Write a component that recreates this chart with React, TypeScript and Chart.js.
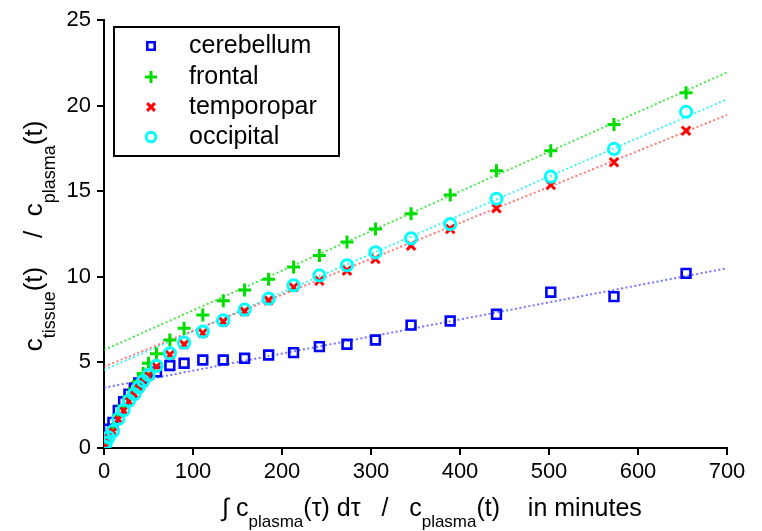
import React, { useEffect, useRef } from 'react';
import { Chart, registerables } from 'chart.js';
import { drawPoint } from 'chart.js/helpers';

Chart.register(...registerables);

// ---- data ----
const xValues = [0.5, 2, 5, 10, 16, 22, 28, 34, 39, 44, 50, 59, 74, 90, 111, 134, 158, 185, 213, 242, 273, 305, 345, 389, 441, 502, 573, 654];

const cerebellum = [0.2, 0.65, 1.1, 1.5, 2.2, 2.7, 3.15, 3.5, 3.8, 4.05, 4.3, 4.45, 4.82, 4.95, 5.14, 5.14, 5.24, 5.43, 5.57, 5.92, 6.06, 6.31, 7.18, 7.42, 7.81, 9.1, 8.84, 10.2];
const frontal = [0.1, 0.35, 0.75, 1.1, 1.9, 2.45, 3.0, 3.45, 3.9, 4.35, 4.95, 5.5, 6.31, 6.99, 7.77, 8.6, 9.23, 9.85, 10.57, 11.25, 12.03, 12.79, 13.69, 14.78, 16.2, 17.37, 18.9, 20.75];
const temporopar = [0.05, 0.25, 0.58, 0.95, 1.68, 2.18, 2.73, 3.12, 3.5, 3.83, 4.2, 4.75, 5.45, 6.05, 6.72, 7.38, 7.98, 8.62, 9.39, 9.77, 10.36, 11.04, 11.82, 12.79, 14.0, 15.36, 16.69, 18.53];
const occipital = [0.1, 0.3, 0.62, 0.98, 1.7, 2.2, 2.76, 3.14, 3.55, 3.91, 4.26, 4.8, 5.53, 6.15, 6.8, 7.45, 8.08, 8.72, 9.5, 10.08, 10.67, 11.43, 12.25, 13.08, 14.56, 15.85, 17.47, 19.64];

// fitted lines: values at fitX
const fitX = [0, 700];
const cerebellumFit = [3.52, 10.5];
const frontalFit = [5.72, 21.94];
const temporoparFit = [4.75, 19.45];
const occipitalFit = [4.56, 20.37];

const seriesNames = ['cerebellum', 'frontal', 'temporopar', 'occipital'];
const xTickMin = 0, xTickMax = 700, xTickStep = 100;
const yTickMin = 0, yTickMax = 25, yTickStep = 5;

const FONT = '"Liberation Sans", Arial, Helvetica, sans-serif';
const BLUE = '#0000ff';
const GREEN = '#00dd00';
const RED = '#ff0000';
const CYAN = '#00ffff';

const toPts = (ys: number[]) => ys.map((y, i) => ({ x: xValues[i], y }));
const toFit = (ys: number[]) => ys.map((y, i) => ({ x: fitX[i], y }));

type Seg = { t: string; sub?: boolean };

const xLabelSegs: Seg[] = [
  { t: '\u222B c' }, { t: 'plasma', sub: true }, { t: '(\u03C4) d\u03C4   /   c' }, { t: 'plasma', sub: true }, { t: '(t)    in minutes' },
];
const yLabelSegs: Seg[] = [
  { t: 'c' }, { t: 'tissue', sub: true }, { t: '(t)    /  c' }, { t: 'plasma', sub: true }, { t: '(t)' },
];

function drawRich(ctx: CanvasRenderingContext2D, segs: Seg[], cx: number, baseY: number, main: number, sub: number, shift: number) {
  let total = 0;
  const widths = segs.map((s) => {
    ctx.font = `${s.sub ? sub : main}px ${FONT}`;
    const w = ctx.measureText(s.t).width;
    total += w;
    return w;
  });
  let x = cx - total / 2;
  segs.forEach((s, i) => {
    ctx.font = `${s.sub ? sub : main}px ${FONT}`;
    ctx.fillText(s.t, x, baseY + (s.sub ? shift : 0));
    x += widths[i];
  });
}

const decorPlugin = {
  id: 'decor',
  afterDraw(chart: any) {
    const ctx: CanvasRenderingContext2D = chart.ctx;
    ctx.save();
    ctx.fillStyle = '#000';
    ctx.textAlign = 'left';
    ctx.textBaseline = 'alphabetic';
    // x axis title
    drawRich(ctx, xLabelSegs, 432, 516, 25, 17, 11);
    // y axis title
    ctx.save();
    ctx.translate(42, 236);
    ctx.rotate(-Math.PI / 2);
    drawRich(ctx, yLabelSegs, 0, 0, 26, 18, 13);
    ctx.restore();

    // legend box
    const bx = 114, by = 27, bw = 225, bh = 129;
    ctx.fillStyle = '#fff';
    ctx.fillRect(bx, by, bw, bh);
    ctx.strokeStyle = '#000';
    ctx.lineWidth = 2;
    ctx.strokeRect(bx, by, bw, bh);
    const rows = [46, 77, 107, 137];
    const scatterSets = chart.data.datasets.filter((d: any) => d.isSeries);
    scatterSets.forEach((d: any, i: number) => {
      ctx.save();
      ctx.strokeStyle = d.borderColor;
      ctx.fillStyle = 'rgba(0,0,0,0)';
      ctx.lineWidth = d.pointBorderWidth;
      drawPoint(ctx, { pointStyle: d.pointStyle, radius: d.legendRadius, borderWidth: d.pointBorderWidth, rotation: 0 } as any, 151, rows[i]);
      ctx.restore();
      ctx.fillStyle = '#000';
      ctx.font = `25px ${FONT}`;
      ctx.textBaseline = 'middle';
      ctx.fillText(d.label, 189, rows[i]);
    });
    ctx.restore();
  },
};

export default function App() {
  const ref = useRef<HTMLCanvasElement | null>(null);
  useEffect(() => {
    if (!ref.current) return;
    const series = [
      { label: seriesNames[0], data: toPts(cerebellum), color: BLUE, style: 'rect', r: 6.2, lr: 5.2, bw: 2.6, order: 4 },
      { label: seriesNames[1], data: toPts(frontal), color: GREEN, style: 'cross', r: 6.5, lr: 6, bw: 3, order: 3 },
      { label: seriesNames[2], data: toPts(temporopar), color: RED, style: 'crossRot', r: 6, lr: 5.5, bw: 3, order: 2 },
      { label: seriesNames[3], data: toPts(occipital), color: CYAN, style: 'circle', r: 5.6, lr: 4.8, bw: 3, order: 1 },
    ];
    const fits = [
      { data: toFit(cerebellumFit), color: 'rgba(60,60,255,0.7)' },
      { data: toFit(frontalFit), color: 'rgba(0,220,0,0.7)' },
      { data: toFit(temporoparFit), color: 'rgba(255,60,60,0.7)' },
      { data: toFit(occipitalFit), color: 'rgba(0,240,240,0.75)' },
    ];
    const datasets: any[] = [
      ...series.map((s) => ({
        label: s.label,
        isSeries: true,
        legendRadius: s.lr,
        data: s.data,
        showLine: false,
        borderColor: s.color,
        backgroundColor: 'rgba(0,0,0,0)',
        pointStyle: s.style,
        pointRadius: s.r,
        pointBorderWidth: s.bw,
        pointBorderColor: s.color,
        pointBackgroundColor: 'rgba(0,0,0,0)',
        order: s.order,
      })),
      ...fits.map((f) => ({
        label: 'fit',
        data: f.data,
        showLine: true,
        borderColor: f.color,
        borderWidth: 2,
        borderDash: [2, 2.5],
        pointRadius: 0,
        fill: false,
        order: 10,
      })),
    ];
    const tickFont = { size: 22, family: FONT };
    const chart = new Chart(ref.current, {
      type: 'scatter',
      data: { datasets },
      options: {
        animation: false,
        responsive: false,
        maintainAspectRatio: false,
        devicePixelRatio: 1,
        layout: { padding: { left: 0, right: 35, top: 20, bottom: 0 } },
        plugins: { legend: { display: false }, tooltip: { enabled: false } },
        scales: {
          x: {
            type: 'linear',
            min: xTickMin,
            max: xTickMax,
            ticks: { stepSize: xTickStep, color: '#000', font: tickFont, padding: 4, maxRotation: 0 },
            grid: { drawOnChartArea: false, drawTicks: true, tickLength: 7, color: '#000', lineWidth: 2 },
            border: { display: true, color: '#000', width: 2 },
            afterFit: (s: any) => { s.height = 83; },
          },
          y: {
            type: 'linear',
            min: yTickMin,
            max: yTickMax,
            ticks: { stepSize: yTickStep, color: '#000', font: tickFont, padding: 6 },
            grid: { drawOnChartArea: false, drawTicks: true, tickLength: 7, color: '#000', lineWidth: 2 },
            border: { display: true, color: '#000', width: 2 },
            afterFit: (s: any) => { s.width = 104; },
          },
        },
      } as any,
      plugins: [decorPlugin],
    });
    return () => chart.destroy();
  }, []);
  return (
    <div style={{ position: 'absolute', left: 0, top: 0, width: 762, height: 531, background: '#fff' }}>
      <canvas ref={ref} width={762} height={531} style={{ display: 'block', width: 762, height: 531 }} />
    </div>
  );
}
